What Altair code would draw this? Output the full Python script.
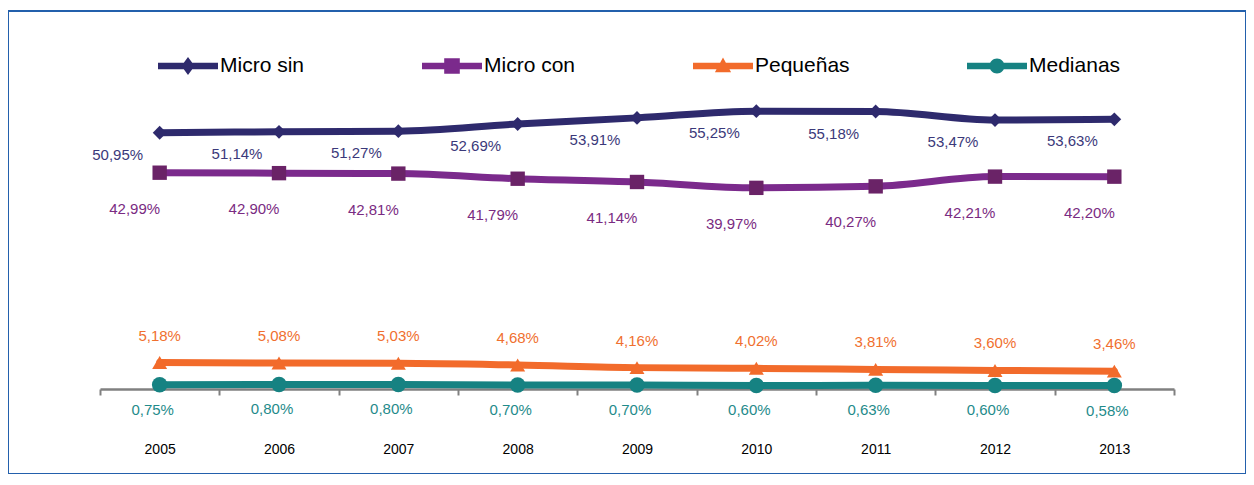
import altair as alt
import pandas as pd

years = ["2005", "2006", "2007", "2008", "2009", "2010", "2011", "2012", "2013"]
series = ["Micro sin", "Micro con", "Pequeñas", "Medianas"]
micro_sin = [50.95, 51.14, 51.27, 52.69, 53.91, 55.25, 55.18, 53.47, 53.63]
micro_con = [42.99, 42.90, 42.81, 41.79, 41.14, 39.97, 40.27, 42.21, 42.20]
pequenas = [5.18, 5.08, 5.03, 4.68, 4.16, 4.02, 3.81, 3.60, 3.46]
medianas = [0.75, 0.80, 0.80, 0.70, 0.70, 0.60, 0.63, 0.60, 0.58]

values = {"Micro sin": micro_sin, "Micro con": micro_con,
          "Pequeñas": pequenas, "Medianas": medianas}
rows = []
for s in series:
    for yr, v in zip(years, values[s]):
        rows.append({"serie": s, "year": yr, "value": v})
df = pd.DataFrame(rows)

# styles
line_colors = ["#2e2a6d", "#7b2a8c", "#f26b2b", "#168282"]
marker_colors = ["#2e2a6d", "#6a2367", "#f26b2b", "#168282"]
label_colors = ["#3b397a", "#7a2b82", "#f0702f", "#1f8b8b"]
shapes = ["diamond", "square", "triangle-up", "circle"]
marker_sizes = [190, 240, 190, 210]
bar = "M-1,-0.11L1,-0.11L1,0.11L-1,0.11Z"
legend_paths = [
    bar + "M0,-0.3L0.22,0L0,0.3L-0.22,0Z",
    bar + "M-0.26,-0.26H0.26V0.26H-0.26Z",
    bar + "M0,-0.28L0.27,0.21L-0.27,0.21Z",
    bar + "M-0.25,0A0.25,0.25 0 1,1 0.25,0A0.25,0.25 0 1,1 -0.25,0Z",
]
label_offsets = {"Micro sin": (-42, 22), "Micro con": (-25, 36),
                 "Pequeñas": (0, -27), "Medianas": (-7, 25)}

W, H = 1238, 463

x_enc = alt.X(
    "year:N", sort=years,
    scale=alt.Scale(domain=years, range=[92, 1166], paddingInner=0, paddingOuter=0),
    axis=alt.Axis(title=None, offset=-85, tickBand="extent", grid=False,
                  domainColor="#808080", domainWidth=2.5, tickColor="#808080",
                  tickWidth=2, tickSize=6, labelFontSize=14, labelColor="#000000",
                  labelPadding=47, labelAngle=0),
)
y_enc = alt.Y("value:Q", scale=alt.Scale(domain=[-17.03, 75.2], nice=False, zero=False),
              axis=None)

base = alt.Chart(df).encode(x=x_enc, y=y_enc)

lines = base.mark_line(strokeWidth=7, interpolate="monotone", strokeCap="round",
                       strokeJoin="round").encode(
    color=alt.Color("serie:N", scale=alt.Scale(domain=series, range=line_colors), legend=None)
)

markers = base.mark_point(filled=True, opacity=1, strokeWidth=0).encode(
    color=alt.Color("serie:N", scale=alt.Scale(domain=series, range=marker_colors), legend=None),
    shape=alt.Shape("serie:N", scale=alt.Scale(domain=series, range=shapes), legend=None),
    size=alt.Size("serie:N", scale=alt.Scale(domain=series, range=marker_sizes), legend=None),
)

texts = []
for s, c in zip(series, label_colors):
    dx, dy = label_offsets[s]
    texts.append(
        base.transform_filter(alt.datum.serie == s)
        .transform_calculate(label="replace(format(datum.value, '.2f'), '.', ',') + '%'")
        .mark_text(dx=dx, dy=dy, fontSize=15, color=c, baseline="middle", align="center")
        .encode(text="label:N")
    )

leg = alt.Legend(orient="none", legendX=150, legendY=25, direction="horizontal",
                 title=None, symbolSize=3600, symbolStrokeWidth=0, symbolOpacity=1,
                 labelFontSize=21, labelColor="#000000", labelFont="Liberation Sans",
                 labelOffset=2, columnPadding=117, padding=0, labelLimit=300)

legend_layer = alt.Chart(df).transform_filter("false").mark_point(
    filled=True, opacity=1, size=3600, strokeWidth=0
).encode(
    color=alt.Color("serie:N", scale=alt.Scale(domain=series, range=line_colors), legend=leg),
    shape=alt.Shape("serie:N", scale=alt.Scale(domain=series, range=legend_paths), legend=leg),
)

chart = alt.layer(lines, markers, *texts, legend_layer).resolve_scale(
    color="independent", shape="independent", size="independent"
).properties(
    width=W, height=H, padding={"top": 3, "left": 0, "right": 0, "bottom": 0}
).configure(font="Liberation Sans").configure_view(stroke="#2360ac", strokeWidth=2)

chart.save("out.html", embed_options={"renderer": "svg", "actions": False})
